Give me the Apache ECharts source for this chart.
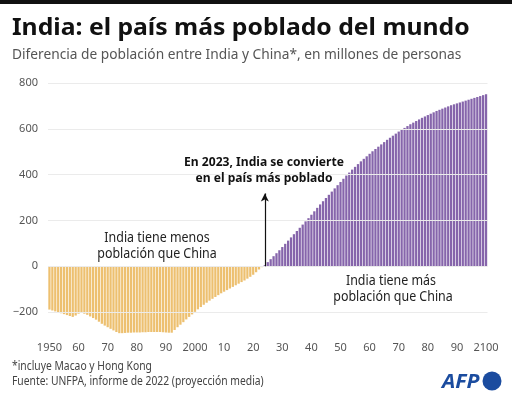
<!DOCTYPE html>
<html><head><meta charset="utf-8">
<script src="https://cdn.jsdelivr.net/npm/echarts@6/dist/echarts.min.js"></script>
<style>html,body{margin:0;padding:0;background:#fff}#c{width:512px;height:395px}</style>
</head><body><div id="c"></div>
<script>
// Years 1950..2100
const years = [];
for (let y = 1950; y <= 2100; y++) years.push(String(y));

// India minus China (incl. Macao & Hong Kong), millions — 1950..2023
const belowChina = [
  -189,-193,-197,-201,-205,-209,-213,-217,-221,-215,
  -207,-203,-207,-212,-219,-226,-233,-242,-251,-259,
  -266,-273,-280,-287,-292,-292,-291,-290,-290,-289,
  -289,-289,-288,-288,-287,-287,-287,-287,-287,-288,
  -289,-290,-290,-278,-266,-255,-244,-232,-221,-210,
  -199,-188,-178,-168,-159,-150,-142,-134,-126,-118,
  -111,-104,-97,-90,-83,-76,-69,-62,-54,-46,
  -37,-26,-14,-4
];
// 2024..2100
const aboveChina = [
  5,18,31,44,57,70,84,98,112,126,
  140,154,168,182,196,210,225,240,255,270,
  284,298,312,326,340,354,368,382,396,409,
  422,434,446,458,469,480,491,502,512,522,
  532,542,552,561,570,579,588,596,604,612,
  620,627,634,641,648,654,660,666,672,678,
  683,688,693,698,703,707,711,715,719,723,
  727,731,735,739,743,747,751
];
const gridValues = [-200, 0, 200, 400, 600, 800];

const FONT = 'Noto Sans';
const negData = belowChina.concat(aboveChina.map(() => '-'));
const posData = belowChina.map(() => '-').concat(aboveChina);

const chart = echarts.init(document.getElementById('c'), null, {renderer: 'canvas'});

function txt(x, y, text, size, opts) {
  opts = opts || {};
  return {
    type: 'text', x: x, y: y, scaleX: opts.sx || 1, silent: true, z: 100,
    style: {
      x: 0, y: 0, text: text, fill: opts.color || '#222',
      font: (opts.style || 'normal') + ' ' + (opts.weight || 'normal') + ' ' + size + 'px "' + FONT + '"',
      textAlign: opts.align || 'left', textVerticalAlign: 'middle'
    }
  };
}

chart.setOption({
  animation: false,
  backgroundColor: '#fff',
  grid: {left: 48, right: 24.5, top: 83, bottom: 60, containLabel: false},
  xAxis: {
    type: 'category', data: years,
    axisLine: {show: false}, axisTick: {show: false},
    axisLabel: {
      interval: 9, margin: 7, color: '#555', fontSize: 11, fontFamily: FONT,
      formatter: v => (v === '1950' || v === '2000' || v === '2100') ? v : v.slice(2)
    }
  },
  yAxis: {
    type: 'value', min: -300, max: 800, interval: 100,
    axisLine: {show: false}, axisTick: {show: false},
    splitLine: {show: false},
    axisLabel: {
      margin: 10, color: '#555', fontSize: 11, fontFamily: FONT,
      formatter: v => (v % 200 === 0) ? String(v).replace('-', '\u2212') : ''
    }
  },
  series: [
    {
      type: 'line', data: [], z: 1, silent: true,
      markLine: {
        silent: true, symbol: 'none', label: {show: false},
        lineStyle: {color: '#ebebeb', type: 'solid', width: 1},
        data: gridValues.map(v => ({yAxis: v}))
      }
    },
    {
      type: 'bar', data: negData, barGap: '-100%', barCategoryGap: '22%', z: 2,
      itemStyle: {color: '#edc070'}
    },
    {
      type: 'bar', data: posData, barGap: '-100%', barCategoryGap: '22%', z: 2,
      itemStyle: {color: '#8665ab'},
      markLine: {
        silent: true, symbol: ['none', 'arrow'], symbolSize: [6, 8],
        label: {show: false},
        lineStyle: {color: '#111', type: 'solid', width: 1.2},
        data: [[{coord: ['2024', 0]}, {coord: ['2024', 318]}]]
      }
    }
  ],
  graphic: [
    {type: 'rect', shape: {x: 0, y: 0, width: 512, height: 4}, style: {fill: '#111'}, silent: true},
    txt(12, 28, 'India: el país más poblado del mundo', 24, {weight: 'bold', color: '#111', sx: 1.03}),
    txt(12, 55, 'Diferencia de población entre India y China*, en millones de personas', 15, {color: '#555', sx: 0.915}),
    txt(264, 162, 'En 2023, India se convierte', 13, {weight: 'bold', color: '#111', align: 'center', sx: 0.93}),
    txt(264, 178, 'en el país más poblado', 13, {weight: 'bold', color: '#111', align: 'center', sx: 0.93}),
    txt(157, 238, 'India tiene menos', 13.5, {color: '#222', align: 'center', sx: 0.92}),
    txt(157, 254, 'población que China', 13.5, {color: '#222', align: 'center', sx: 0.92}),
    txt(391, 281, 'India tiene más', 13.5, {color: '#222', align: 'center', sx: 0.92}),
    txt(393, 297, 'población que China', 13.5, {color: '#222', align: 'center', sx: 0.92}),
    txt(12, 367, '*incluye Macao y Hong Kong', 12, {color: '#444', sx: 0.86}),
    txt(12, 382, 'Fuente: UNFPA, informe de 2022 (proyección media)', 12, {color: '#444', sx: 0.86}),
    txt(442, 382, 'AFP', 20, {weight: 'bold', style: 'italic', color: '#1b4c9f', sx: 1.06}),
    {type: 'circle', shape: {cx: 492, cy: 381, r: 9.5}, style: {fill: '#1b4c9f'}, silent: true}
  ]
});
</script>
</body></html>
